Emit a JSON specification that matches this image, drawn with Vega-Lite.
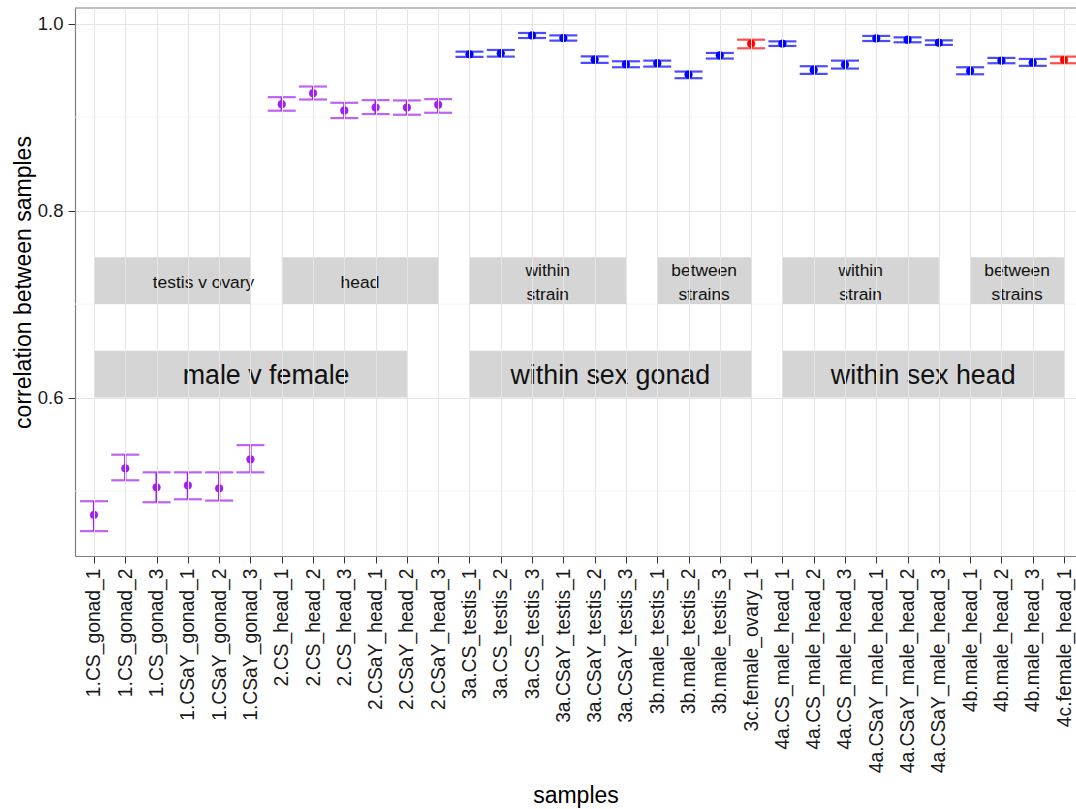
{
  "$schema": "https://vega.github.io/schema/vega-lite/v6.json",
  "width": 1001,
  "height": 548,
  "autosize": "none",
  "padding": {"left": 75, "top": 8, "right": 0, "bottom": 253},
  "background": "white",
  "config": {
    "font": "Liberation Sans",
    "view": {"stroke": null},
    "axis": {
      "labelFont": "Liberation Sans",
      "titleFont": "Liberation Sans",
      "labelFontSize": 18.5,
      "labelColor": "#1a1a1a",
      "labelLimit": 0,
      "titleFontSize": 23,
      "titleFontWeight": "normal",
      "titleColor": "#000000",
      "tickSize": 7,
      "tickColor": "#333333",
      "tickWidth": 1,
      "domainColor": "#7f7f7f",
      "domainWidth": 1.2,
      "gridColor": "#e5e5e5",
      "gridWidth": 1,
      "labelPadding": 5
    }
  },
  "datasets": {
    "pts": [
      {"sample": "1.CS_gonad_1", "cor": 0.4745, "lo": 0.4571, "hi": 0.4891, "type": "between sexes"},
      {"sample": "1.CS_gonad_2", "cor": 0.5243, "lo": 0.5115, "hi": 0.5389, "type": "between sexes"},
      {"sample": "1.CS_gonad_3", "cor": 0.5040, "lo": 0.4880, "hi": 0.5200, "type": "between sexes"},
      {"sample": "1.CSaY_gonad_1", "cor": 0.5061, "lo": 0.4912, "hi": 0.5200, "type": "between sexes"},
      {"sample": "1.CSaY_gonad_2", "cor": 0.5029, "lo": 0.4898, "hi": 0.5200, "type": "between sexes"},
      {"sample": "1.CSaY_gonad_3", "cor": 0.5339, "lo": 0.5200, "hi": 0.5491, "type": "between sexes"},
      {"sample": "2.CS_head_1", "cor": 0.9139, "lo": 0.9069, "hi": 0.9214, "type": "between sexes"},
      {"sample": "2.CS_head_2", "cor": 0.9257, "lo": 0.9189, "hi": 0.9328, "type": "between sexes"},
      {"sample": "2.CS_head_3", "cor": 0.9072, "lo": 0.8990, "hi": 0.9154, "type": "between sexes"},
      {"sample": "2.CSaY_head_1", "cor": 0.9104, "lo": 0.9033, "hi": 0.9182, "type": "between sexes"},
      {"sample": "2.CSaY_head_2", "cor": 0.9104, "lo": 0.9026, "hi": 0.9179, "type": "between sexes"},
      {"sample": "2.CSaY_head_3", "cor": 0.9133, "lo": 0.9047, "hi": 0.9193, "type": "between sexes"},
      {"sample": "3a.CS_testis_1", "cor": 0.9673, "lo": 0.9645, "hi": 0.9701, "type": "male"},
      {"sample": "3a.CS_testis_2", "cor": 0.9683, "lo": 0.9648, "hi": 0.9719, "type": "male"},
      {"sample": "3a.CS_testis_3", "cor": 0.9875, "lo": 0.9847, "hi": 0.9901, "type": "male"},
      {"sample": "3a.CSaY_testis_1", "cor": 0.9847, "lo": 0.9819, "hi": 0.9875, "type": "male"},
      {"sample": "3a.CSaY_testis_2", "cor": 0.9616, "lo": 0.9581, "hi": 0.9651, "type": "male"},
      {"sample": "3a.CSaY_testis_3", "cor": 0.9566, "lo": 0.9534, "hi": 0.9598, "type": "male"},
      {"sample": "3b.male_testis_1", "cor": 0.9577, "lo": 0.9541, "hi": 0.9605, "type": "male"},
      {"sample": "3b.male_testis_2", "cor": 0.9456, "lo": 0.9417, "hi": 0.9488, "type": "male"},
      {"sample": "3b.male_testis_3", "cor": 0.9662, "lo": 0.9627, "hi": 0.9687, "type": "male"},
      {"sample": "3c.female_ovary_1", "cor": 0.9787, "lo": 0.9737, "hi": 0.9829, "type": "female"},
      {"sample": "4a.CS_male_head_1", "cor": 0.9787, "lo": 0.9762, "hi": 0.9811, "type": "male"},
      {"sample": "4a.CS_male_head_2", "cor": 0.9506, "lo": 0.9463, "hi": 0.9545, "type": "male"},
      {"sample": "4a.CS_male_head_3", "cor": 0.9563, "lo": 0.9520, "hi": 0.9605, "type": "male"},
      {"sample": "4a.CSaY_male_head_1", "cor": 0.9843, "lo": 0.9815, "hi": 0.9869, "type": "male"},
      {"sample": "4a.CSaY_male_head_2", "cor": 0.9829, "lo": 0.9801, "hi": 0.9854, "type": "male"},
      {"sample": "4a.CSaY_male_head_3", "cor": 0.9797, "lo": 0.9773, "hi": 0.9822, "type": "male"},
      {"sample": "4b.male_head_1", "cor": 0.9495, "lo": 0.9459, "hi": 0.9534, "type": "male"},
      {"sample": "4b.male_head_2", "cor": 0.9605, "lo": 0.9577, "hi": 0.9634, "type": "male"},
      {"sample": "4b.male_head_3", "cor": 0.9584, "lo": 0.9549, "hi": 0.9623, "type": "male"},
      {"sample": "4c.female_head_1", "cor": 0.9613, "lo": 0.9577, "hi": 0.9648, "type": "female"}
    ],
    "boxes": [
      {"start": "1.CS_gonad_1", "end": "1.CSaY_gonad_3", "ymin": 0.70, "ymax": 0.75},
      {"start": "2.CS_head_1", "end": "2.CSaY_head_3", "ymin": 0.70, "ymax": 0.75},
      {"start": "3a.CS_testis_1", "end": "3a.CSaY_testis_3", "ymin": 0.70, "ymax": 0.75},
      {"start": "3b.male_testis_1", "end": "3c.female_ovary_1", "ymin": 0.70, "ymax": 0.75},
      {"start": "4a.CS_male_head_1", "end": "4a.CSaY_male_head_3", "ymin": 0.70, "ymax": 0.75},
      {"start": "4b.male_head_1", "end": "4c.female_head_1", "ymin": 0.70, "ymax": 0.75},
      {"start": "1.CS_gonad_1", "end": "2.CSaY_head_2", "ymin": 0.60, "ymax": 0.65},
      {"start": "3a.CS_testis_1", "end": "3c.female_ovary_1", "ymin": 0.60, "ymax": 0.65},
      {"start": "4a.CS_male_head_1", "end": "4c.female_head_1", "ymin": 0.60, "ymax": 0.65}
    ],
    "inner1": [
      {"at": "1.CSaY_gonad_1", "label": "testis v ovary", "y": 0.725},
      {"at": "2.CS_head_3", "label": "head", "y": 0.725}
    ],
    "inner2": [
      {"at": "3a.CS_testis_3", "label": "within\nstrain", "y": 0.725},
      {"at": "3b.male_testis_2", "label": "between\nstrains", "y": 0.725},
      {"at": "4a.CS_male_head_3", "label": "within\nstrain", "y": 0.725},
      {"at": "4b.male_head_2", "label": "between\nstrains", "y": 0.725}
    ],
    "outer": [
      {"at": "1.CSaY_gonad_3", "label": "male v female", "y": 0.625},
      {"at": "3a.CSaY_testis_2", "label": "within sex gonad", "y": 0.625},
      {"at": "4a.CSaY_male_head_2", "label": "within sex head", "y": 0.625}
    ],
    "minor": [{"v": 0.5}, {"v": 0.7}, {"v": 0.9}],
    "top": [{"v": 1.0168}]
  },
  "layer": [
    {
      "data": {"name": "minor"},
      "mark": {"type": "rule", "color": "#f4f4f4", "strokeWidth": 0.8},
      "encoding": {
        "y": {"field": "v", "type": "quantitative", "title": "correlation between samples"}
      }
    },
    {
      "data": {"name": "top"},
      "mark": {"type": "rule", "color": "#7f7f7f", "strokeWidth": 1.2},
      "encoding": {
        "y": {"field": "v", "type": "quantitative", "title": "correlation between samples"}
      }
    },
    {
      "data": {"name": "boxes"},
      "mark": {"type": "rect", "color": "#bebebe", "opacity": 0.65},
      "encoding": {
        "x": {"field": "start", "type": "nominal", "title": "samples"},
        "x2": {"field": "end"},
        "y": {"field": "ymin", "type": "quantitative", "title": "correlation between samples"},
        "y2": {"field": "ymax"}
      }
    },
    {
      "data": {"name": "inner1"},
      "mark": {"type": "text", "fontSize": 17.4, "baseline": "middle", "align": "center", "dx": 15.65, "dy": 2, "color": "#111111", "font": "Liberation Sans"},
      "encoding": {
        "x": {"field": "at", "type": "nominal", "title": "samples"},
        "y": {"field": "y", "type": "quantitative", "title": "correlation between samples"},
        "text": {"field": "label"}
      }
    },
    {
      "data": {"name": "inner2"},
      "mark": {"type": "text", "fontSize": 17.4, "lineBreak": "\n", "lineHeight": 24, "baseline": "middle", "align": "center", "dx": 15.65, "dy": -10, "color": "#111111", "font": "Liberation Sans"},
      "encoding": {
        "x": {"field": "at", "type": "nominal", "title": "samples"},
        "y": {"field": "y", "type": "quantitative", "title": "correlation between samples"},
        "text": {"field": "label"}
      }
    },
    {
      "data": {"name": "outer"},
      "mark": {"type": "text", "fontSize": 26.8, "baseline": "middle", "align": "center", "dx": 15.65, "dy": 2, "color": "#111111", "font": "Liberation Sans"},
      "encoding": {
        "x": {"field": "at", "type": "nominal", "title": "samples"},
        "y": {"field": "y", "type": "quantitative", "title": "correlation between samples"},
        "text": {"field": "label"}
      }
    },
    {
      "data": {"name": "pts"},
      "mark": {"type": "rule", "strokeWidth": 2.2},
      "encoding": {
        "x": {"field": "sample", "type": "nominal", "title": "samples"},
        "y": {"field": "lo", "type": "quantitative", "title": "correlation between samples"},
        "y2": {"field": "hi"},
        "color": {"field": "type", "type": "nominal", "legend": null,
          "scale": {"domain": ["between sexes", "male", "female"], "range": ["#a020f0", "#0000ff", "#ff0000"]}}
      }
    },
    {
      "data": {"name": "pts"},
      "mark": {"type": "tick", "size": 28, "thickness": 2.2, "orient": "horizontal"},
      "encoding": {
        "x": {"field": "sample", "type": "nominal", "title": "samples"},
        "y": {"field": "lo", "type": "quantitative", "title": "correlation between samples"},
        "color": {"field": "type", "type": "nominal", "legend": null}
      }
    },
    {
      "data": {"name": "pts"},
      "mark": {"type": "tick", "size": 28, "thickness": 2.2, "orient": "horizontal"},
      "encoding": {
        "x": {"field": "sample", "type": "nominal", "title": "samples"},
        "y": {"field": "hi", "type": "quantitative", "title": "correlation between samples"},
        "color": {"field": "type", "type": "nominal", "legend": null}
      }
    },
    {
      "data": {"name": "pts"},
      "mark": {"type": "circle", "opacity": 1, "fillOpacity": 1, "size": 60, "strokeWidth": 0.5},
      "encoding": {
        "x": {"field": "sample", "type": "nominal", "title": "samples",
          "scale": {"type": "point", "padding": 0.495, "align": 0.613},
          "axis": {"labelAngle": -90, "grid": true, "titlePadding": 28, "labelFontSize": 19.3}},
        "y": {"field": "cor", "type": "quantitative", "title": "correlation between samples",
          "scale": {"domain": [0.4305, 1.0168], "nice": false, "zero": false},
          "axis": {"values": [0.6, 0.8, 1.0], "format": ".1f", "grid": true, "titlePadding": 2}},
        "fill": {"field": "type", "type": "nominal", "legend": null,
          "scale": {"domain": ["between sexes", "male", "female"], "range": ["#a020f0", "#0000ff", "#ff0000"]}},
        "stroke": {"field": "type", "type": "nominal", "legend": null,
          "scale": {"domain": ["between sexes", "male", "female"], "range": ["#a020f0", "#0000ff", "#ff0000"]}}
      }
    }
  ]
}
